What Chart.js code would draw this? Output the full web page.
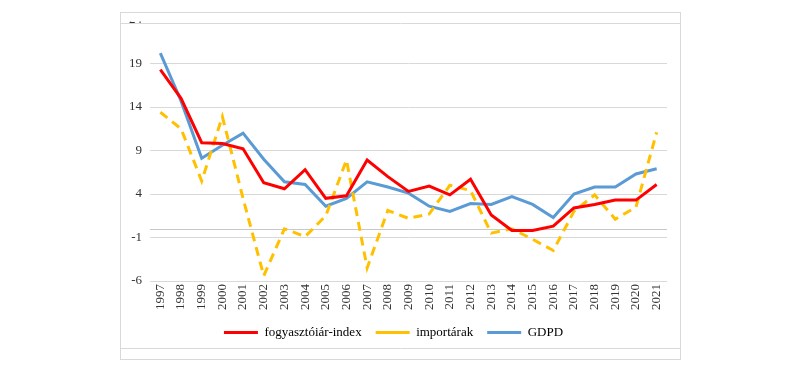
<!DOCTYPE html>
<html>
<head>
<meta charset="utf-8">
<script src="https://cdn.jsdelivr.net/npm/chart.js@4.4.1/dist/chart.umd.min.js"></script>
<style>
html,body{margin:0;padding:0;background:#fff;}
#wrap{width:800px;height:373px;position:relative;}
</style>
</head>
<body>
<div id="wrap"><canvas id="c" width="800" height="373"></canvas></div>
<script>
const years = ['1997','1998','1999','2000','2001','2002','2003','2004','2005','2006','2007','2008','2009','2010','2011','2012','2013','2014','2015','2016','2017','2018','2019','2020','2021'];
const fogyasztoiar = [18.3,15.0,9.9,9.8,9.2,5.3,4.6,6.8,3.5,3.8,7.9,6.0,4.3,4.9,3.9,5.7,1.6,-0.2,-0.2,0.3,2.4,2.8,3.3,3.3,5.1];
const importarak = [13.4,11.5,5.5,12.9,3.5,-5.4,0.0,-0.9,1.5,7.9,-4.5,2.1,1.2,1.7,5.0,4.4,-0.5,0.0,-1.2,-2.5,2.0,3.9,1.1,2.5,11.1];
const gdpd = [20.2,14.7,8.1,9.6,11.0,8.0,5.4,5.1,2.6,3.5,5.4,4.8,4.1,2.6,2.0,2.9,2.8,3.7,2.8,1.3,4.0,4.8,4.8,6.3,6.9];
const seriesNames = ['fogyasztóiár-index','importárak','GDPD'];
const yMin = -6, yMax = 24, yStep = 5;

const font = 'Liberation Serif';

const framePlugin = {
  id: 'frame',
  beforeDatasetsDraw(chart) {
    const ctx = chart.ctx, ca = chart.chartArea, y = chart.scales.y;
    const y0 = y.getPixelForValue(0);
    ctx.save();
    ctx.strokeStyle = '#c8c8c8';
    ctx.lineWidth = 1;
    ctx.beginPath();
    ctx.moveTo(ca.left, Math.round(y0) + 0.5);
    ctx.lineTo(ca.right, Math.round(y0) + 0.5);
    ctx.stroke();
    ctx.restore();
  },
  afterDraw(chart) {
    const ctx = chart.ctx;
    ctx.save();
    ctx.fillStyle = '#ffffff';
    ctx.fillRect(121, 13, 558, 8.5);
    ctx.strokeStyle = '#d9d9d9';
    ctx.lineWidth = 1;
    ctx.strokeRect(120.5, 12.5, 560, 347);
    ctx.beginPath();
    ctx.moveTo(120.5, 23.5); ctx.lineTo(680.5, 23.5);
    ctx.moveTo(120.5, 348.5); ctx.lineTo(680.5, 348.5);
    ctx.stroke();
    ctx.restore();
  }
};

new Chart(document.getElementById('c'), {
  type: 'line',
  data: {
    labels: years,
    datasets: [
      {label: seriesNames[0], data: fogyasztoiar, borderColor: '#ff0000', backgroundColor: '#ff0000', borderWidth: 3, pointRadius: 0, tension: 0},
      {label: seriesNames[1], data: importarak, borderColor: '#ffc000', backgroundColor: '#ffc000', borderWidth: 3, borderDash: [9, 6], pointRadius: 0, tension: 0},
      {label: seriesNames[2], data: gdpd, borderColor: '#5b9bd5', backgroundColor: '#5b9bd5', borderWidth: 3, pointRadius: 0, tension: 0}
    ]
  },
  options: {
    responsive: false,
    animation: false,
    devicePixelRatio: 1,
    layout: {padding: {left: 120, right: 133, top: 20, bottom: 24}},
    plugins: {
      legend: {
        position: 'bottom',
        labels: {
          usePointStyle: true,
          pointStyle: 'line',
          pointStyleWidth: 34,
          padding: 14,
          color: '#000',
          font: {family: font, size: 13}
        }
      },
      tooltip: {enabled: false}
    },
    scales: {
      x: {
        offset: true,
        grid: {display: false, offset: true, drawTicks: false},
        border: {display: false},
        ticks: {
          color: '#333',
          font: {family: font, size: 13},
          minRotation: 90,
          maxRotation: 90,
          padding: 3,
          autoSkip: false
        },
        afterFit(s) { s.height = 31; }
      },
      y: {
        min: yMin,
        max: yMax,
        border: {display: false},
        grid: {color: '#d9d9d9', lineWidth: 1, drawTicks: false},
        ticks: {
          stepSize: yStep,
          color: '#333',
          font: {family: font, size: 13},
          padding: 8
        },
        afterFit(s) { s.width = 30; }
      }
    }
  },
  plugins: [framePlugin]
});
</script>
</body>
</html>
